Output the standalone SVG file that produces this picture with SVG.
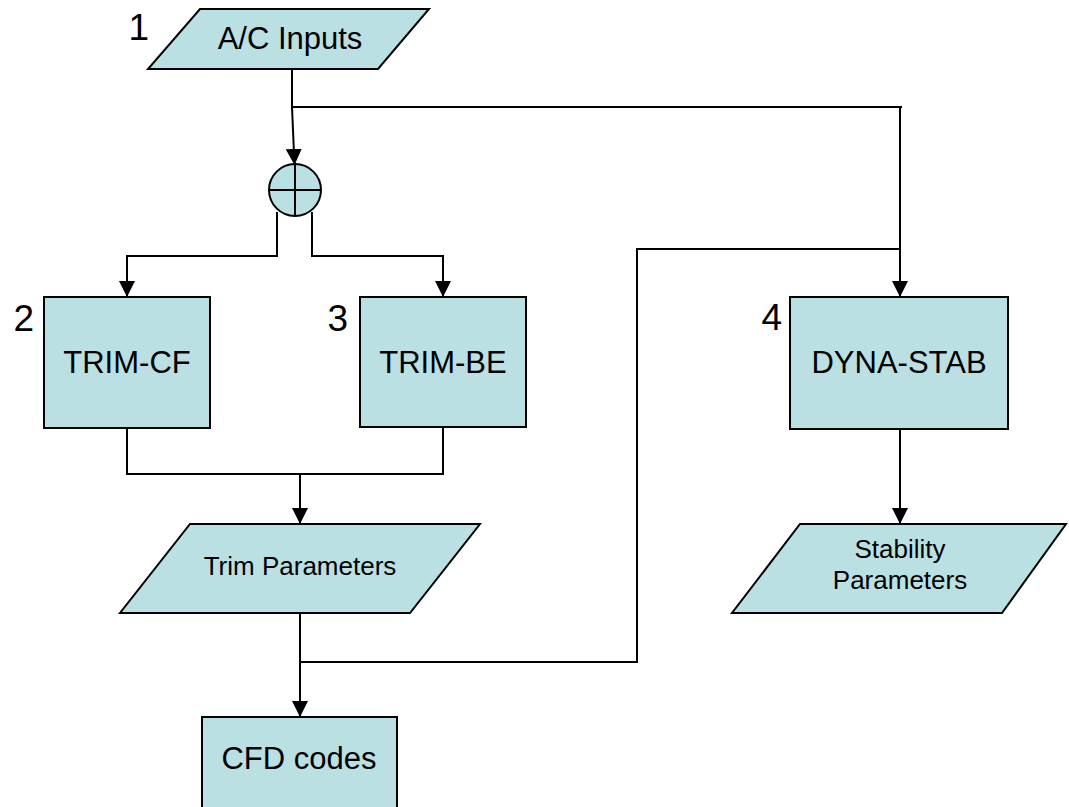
<svg xmlns="http://www.w3.org/2000/svg" width="1069" height="807" viewBox="0 0 1069 807">
<defs>
<marker id="arr" viewBox="0 0 16 16" refX="16" refY="8" markerWidth="16" markerHeight="16" markerUnits="userSpaceOnUse" orient="auto">
<path d="M0,0 L16,8 L0,16 Z" fill="#000"/>
</marker>
</defs>
<style>
.shape{fill:#BBE0E3;stroke:#000;stroke-width:2}
.lbl{font-family:"Liberation Sans",Arial,sans-serif;font-size:31px;fill:#000;text-anchor:middle}
.sm{font-family:"Liberation Sans",Arial,sans-serif;font-size:26px;fill:#000;text-anchor:middle}
.num{font-family:"Liberation Sans",Arial,sans-serif;font-size:37px;fill:#000;text-anchor:end}
.ln{fill:none;stroke:#000;stroke-width:2}
</style>
<rect width="1069" height="807" fill="#fff"/>
<g id="connectors">
<polyline class="ln" points="292,69 292,107 902,107"/>
<polyline class="ln" points="292,107 294.5,165" marker-end="url(#arr)"/>
<polyline class="ln" points="900,107 900,297" marker-end="url(#arr)"/>
<polyline class="ln" points="277,212 277,256 127,256 127,297" marker-end="url(#arr)"/>
<polyline class="ln" points="312,212 312,256 443,256 443,297" marker-end="url(#arr)"/>
<polyline class="ln" points="127,428 127,474 443,474 443,427"/>
<polyline class="ln" points="300,474 300,524" marker-end="url(#arr)"/>
<polyline class="ln" points="300,613 300,717" marker-end="url(#arr)"/>
<polyline class="ln" points="300,662 637,662 637,249 900,249"/>
<polyline class="ln" points="900,429 900,524" marker-end="url(#arr)"/>
</g>
<g id="n1">
<polygon class="shape" points="200,9 429,9 378,69 148,69"/>
<text class="lbl" x="290" y="49">A/C Inputs</text>
<text class="num" x="149" y="40">1</text>
</g>
<g id="sum">
<circle class="shape" cx="295" cy="190" r="26"/>
<line class="ln" x1="269" y1="190" x2="321" y2="190"/>
<line class="ln" x1="295" y1="164" x2="295" y2="216"/>
</g>
<g id="n2">
<rect class="shape" x="44" y="297" width="166" height="131"/>
<text class="lbl" x="127" y="373">TRIM-CF</text>
<text class="num" x="34" y="331">2</text>
</g>
<g id="n3">
<rect class="shape" x="360" y="297" width="166" height="130"/>
<text class="lbl" x="443" y="373">TRIM-BE</text>
<text class="num" x="348" y="331">3</text>
</g>
<g id="n4">
<rect class="shape" x="790" y="297" width="218" height="132"/>
<text class="lbl" x="899" y="373">DYNA-STAB</text>
<text class="num" x="782" y="330">4</text>
</g>
<g id="trim-params">
<polygon class="shape" points="190,524 480,524 410,613 120,613"/>
<text class="sm" x="300" y="575">Trim Parameters</text>
</g>
<g id="stab-params">
<polygon class="shape" points="800,524 1066,524 1002,613 732,613"/>
<text class="sm" x="900" y="558">Stability</text>
<text class="sm" x="900" y="589">Parameters</text>
</g>
<g id="cfd">
<rect class="shape" x="202" y="717" width="195" height="110"/>
<text class="lbl" x="299" y="769">CFD codes</text>
</g>
</svg>
